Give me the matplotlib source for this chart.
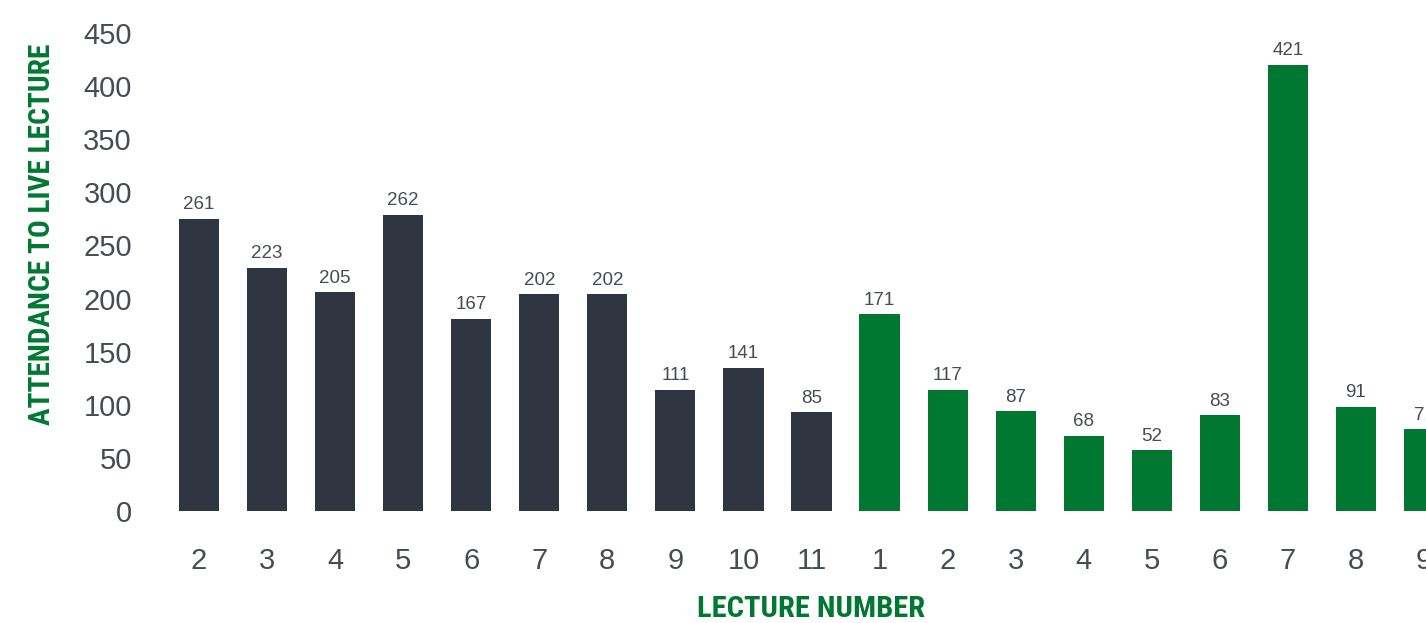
import numpy as np
import matplotlib
matplotlib.use("Agg")
import matplotlib.pyplot as plt
from matplotlib import font_manager

# lecture numbers as shown on the x axis (two courses back to back)
lectures = ["2", "3", "4", "5", "6", "7", "8", "9", "10", "11",
            "1", "2", "3", "4", "5", "6", "7", "8", "9"]
# printed value labels
labels = ["261", "223", "205", "262", "167", "202", "202", "111", "141", "85",
          "171", "117", "87", "68", "52", "83", "421", "91", "71"]
# bar heights as drawn in the picture (read against the y axis)
heights = [275, 229, 206, 279, 181, 204, 204, 114, 135, 93,
           185, 114, 94, 71, 57, 90, 420, 98, 77]
# first course is dark, second is green
course = [0] * 10 + [1] * 9

DARK = "#2f3541"
GREEN = "#007832"
TEXT = "#474b55"

plt.rcParams['font.family'] = ['Liberation Sans', 'DejaVu Sans']

fig = plt.figure(figsize=(14.26, 6.23), dpi=100)
ax = fig.add_axes([150 / 1426, 112 / 623, 1276 / 1426, 478 / 623])

x = np.arange(len(lectures))
colors = [DARK if c == 0 else GREEN for c in course]
ax.bar(x, heights, width=0.59, color=colors)

for xi, h, lab in zip(x, heights, labels):
    ax.annotate(lab, (xi, h), xytext=(0, 4), textcoords="offset points",
                ha="center", va="bottom", fontsize=13.5, color=TEXT,
                annotation_clip=False)

ax.set_xlim(-0.72, 18.03)
ax.set_ylim(0, 450)
ax.set_yticks(np.arange(0, 451, 50))
ax.set_xticks(x)
ax.set_xticklabels(lectures)
ax.tick_params(axis="both", length=0, labelsize=21, labelcolor=TEXT)
ax.tick_params(axis="y", pad=13)
ax.tick_params(axis="x", pad=26)
for s in ax.spines.values():
    s.set_visible(False)

# condensed bold face for the axis titles, whichever is installed
fp = font_manager.FontProperties(
    family=["Roboto Condensed", "Open Sans Condensed", "DejaVu Sans"],
    weight="bold", stretch="condensed")

ylab = fig.text(42 / 1426, 1 - 234 / 623, "ATTENDANCE TO LIVE LECTURE", rotation=90,
                ha="center", va="center", fontproperties=fp, color=GREEN)
xlab = fig.text(811 / 1426, 1 - 609 / 623, "LECTURE NUMBER", ha="center", va="center",
                fontproperties=fp, color=GREEN)
ylab.set_fontsize(25)
xlab.set_fontsize(25)

# fit the titles to the length they take in the reference
renderer = fig.canvas.get_renderer()
for t, target, along in ((ylab, 382, "h"), (xlab, 228, "w")):
    bb = t.get_window_extent(renderer)
    size = bb.height if along == "h" else bb.width
    t.set_fontsize(min(27, 25 * target / size))

fig.savefig("out.png", dpi=100)
